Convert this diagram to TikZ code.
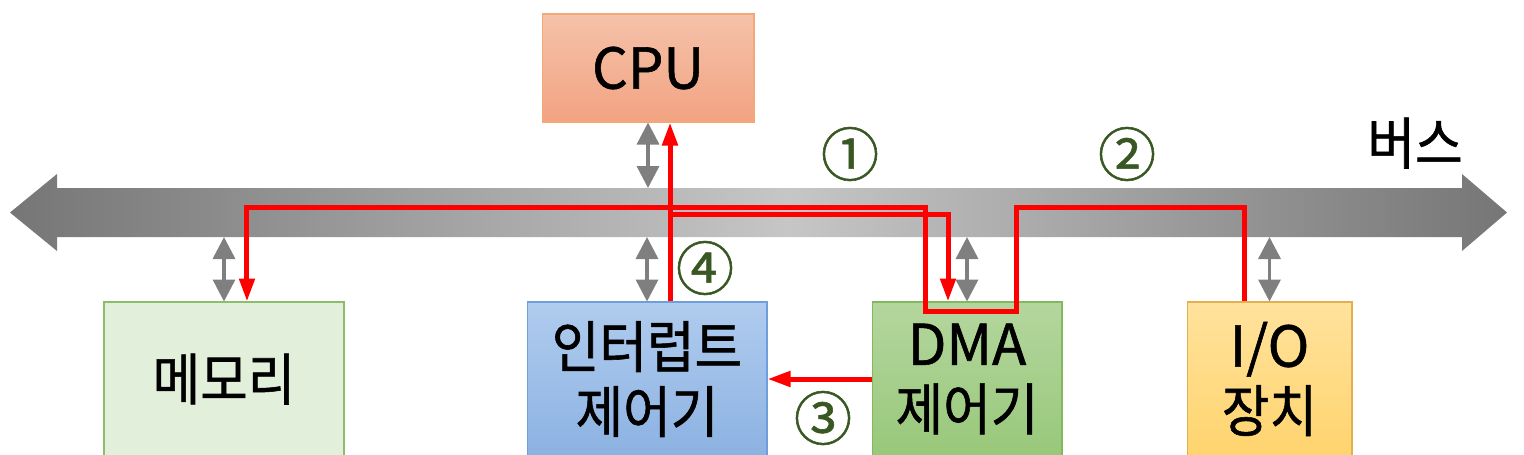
\documentclass[tikz,border=0pt]{standalone}
\usepackage{fontspec}
\setmainfont{Noto Sans CJK KR}[FakeBold=1]
\newfontfamily\krfont[FakeStretch=0.92,FakeBold=1]{Noto Sans CJK KR}
\usepackage{tikz}
\usetikzlibrary{calc,arrows.meta}
\definecolor{ngreen}{RGB}{56,87,35}
\definecolor{busdark}{RGB}{118,118,118}
\definecolor{buslight}{RGB}{198,198,198}
\definecolor{arrgray}{RGB}{127,127,127}
\pgfdeclarehorizontalshading{busshade}{100bp}{color(0bp)=(busdark); color(25bp)=(busdark); color(51bp)=(buslight); color(75bp)=(busdark); color(100bp)=(busdark)}

\begin{document}
\begin{tikzpicture}[x=0.02cm,y=-0.02cm]
  \tikzstyle{box}=[draw,line width=0.6pt,inner sep=0pt,align=center,font=\fontsize{32}{37}\selectfont]
  \tikzstyle{num}=[text=ngreen,inner sep=0pt,font=\fontsize{33}{33}\selectfont]
  \tikzstyle{busio}=[draw=arrgray,line width=0.07cm,{Triangle[width=0.44cm,length=0.44cm]}-{Triangle[width=0.44cm,length=0.44cm]}]
  \tikzstyle{flow}=[draw=red,line width=0.1cm,-{Triangle[width=0.3cm,length=0.46cm]}]
  \useasboundingbox (0,0) rectangle (1524,454);
  \clip (0,0) rectangle (1524,454);
  \shade[shading=busshade] (10,212.5) -- (57,174) -- (57,188) -- (1462,188) -- (1462,174) -- (1507,212.5) -- (1462,251) -- (1462,237) -- (57,237) -- (57,251) -- cycle;
  \coordinate (bt) at (0,188);
  \coordinate (bb) at (0,237);
  \coordinate (hi) at (0,207);
  \coordinate (lo) at (0,214);
  \node[box,top color={rgb,255:red,245;green,194;blue,170},bottom color={rgb,255:red,242;green,163;blue,130},draw={rgb,255:red,244;green,168;blue,120},minimum width=4.24cm,minimum height=2.16cm] (cpu) at (648,68) {CPU};
  \node[box,fill={rgb,255:red,226;green,239;blue,218},draw={rgb,255:red,140;green,190;blue,105},minimum width=4.8cm,minimum height=3.08cm] (mem) at (224,379) {\krfont 메모리};
  \node[box,top color={rgb,255:red,176;green,204;blue,238},bottom color={rgb,255:red,140;green,178;blue,226},draw={rgb,255:red,110;green,158;blue,219},minimum width=4.8cm,minimum height=3.08cm] (irq) at (647,379) {\krfont 인터럽트\\\krfont 제어기};
  \node[box,top color={rgb,255:red,180;green,214;blue,158},bottom color={rgb,255:red,152;green,200;blue,122},draw={rgb,255:red,130;green,185;blue,95},minimum width=3.8cm,minimum height=3.08cm] (dma) at (967,379) {DMA\\\krfont 제어기};
  \node[box,top color={rgb,255:red,255;green,226;blue,156},bottom color={rgb,255:red,255;green,212;blue,110},draw={rgb,255:red,226;green,176;blue,80},minimum width=3.3cm,minimum height=3.08cm] (io) at (1269.5,379) {I/O\\\krfont 장치};
  \node[font=\fontsize{32}{37}\selectfont\krfont] (bus) at (1415,143) {버스};
  \node[num] (n1) at (850,154) {①};
  \node[num] (n2) at (1127,154) {②};
  \node[num] (n3) at (823,418) {③};
  \node[num] (n4) at (705,268) {④};
  \draw[busio] (cpu.south) -- (cpu.south |- bt);
  \foreach \n in {mem,irq,dma,io}
    \draw[busio] (\n.north) -- (\n.north |- bb);
  \coordinate (p4) at ([xshift=0.46cm]irq.north);
  \coordinate (pio) at ([xshift=-0.51cm]io.north);
  \coordinate (d1) at ([xshift=0.98cm,yshift=-0.2cm]dma.north);
  \coordinate (d2) at ([xshift=-0.84cm,yshift=-0.2cm]dma.north);
  \draw[flow] (pio) |- (d1 |- hi) -- (d1) -- (d2) -- (d2 |- hi) -| ([xshift=0.46cm]mem.north);
  \draw[flow] (p4 |- lo) -| ([xshift=-0.38cm]dma.north);
  \draw[flow] (p4) -- (p4 |- cpu.south);
  \draw[flow] (dma) -- (irq);
\end{tikzpicture}
\end{document}
